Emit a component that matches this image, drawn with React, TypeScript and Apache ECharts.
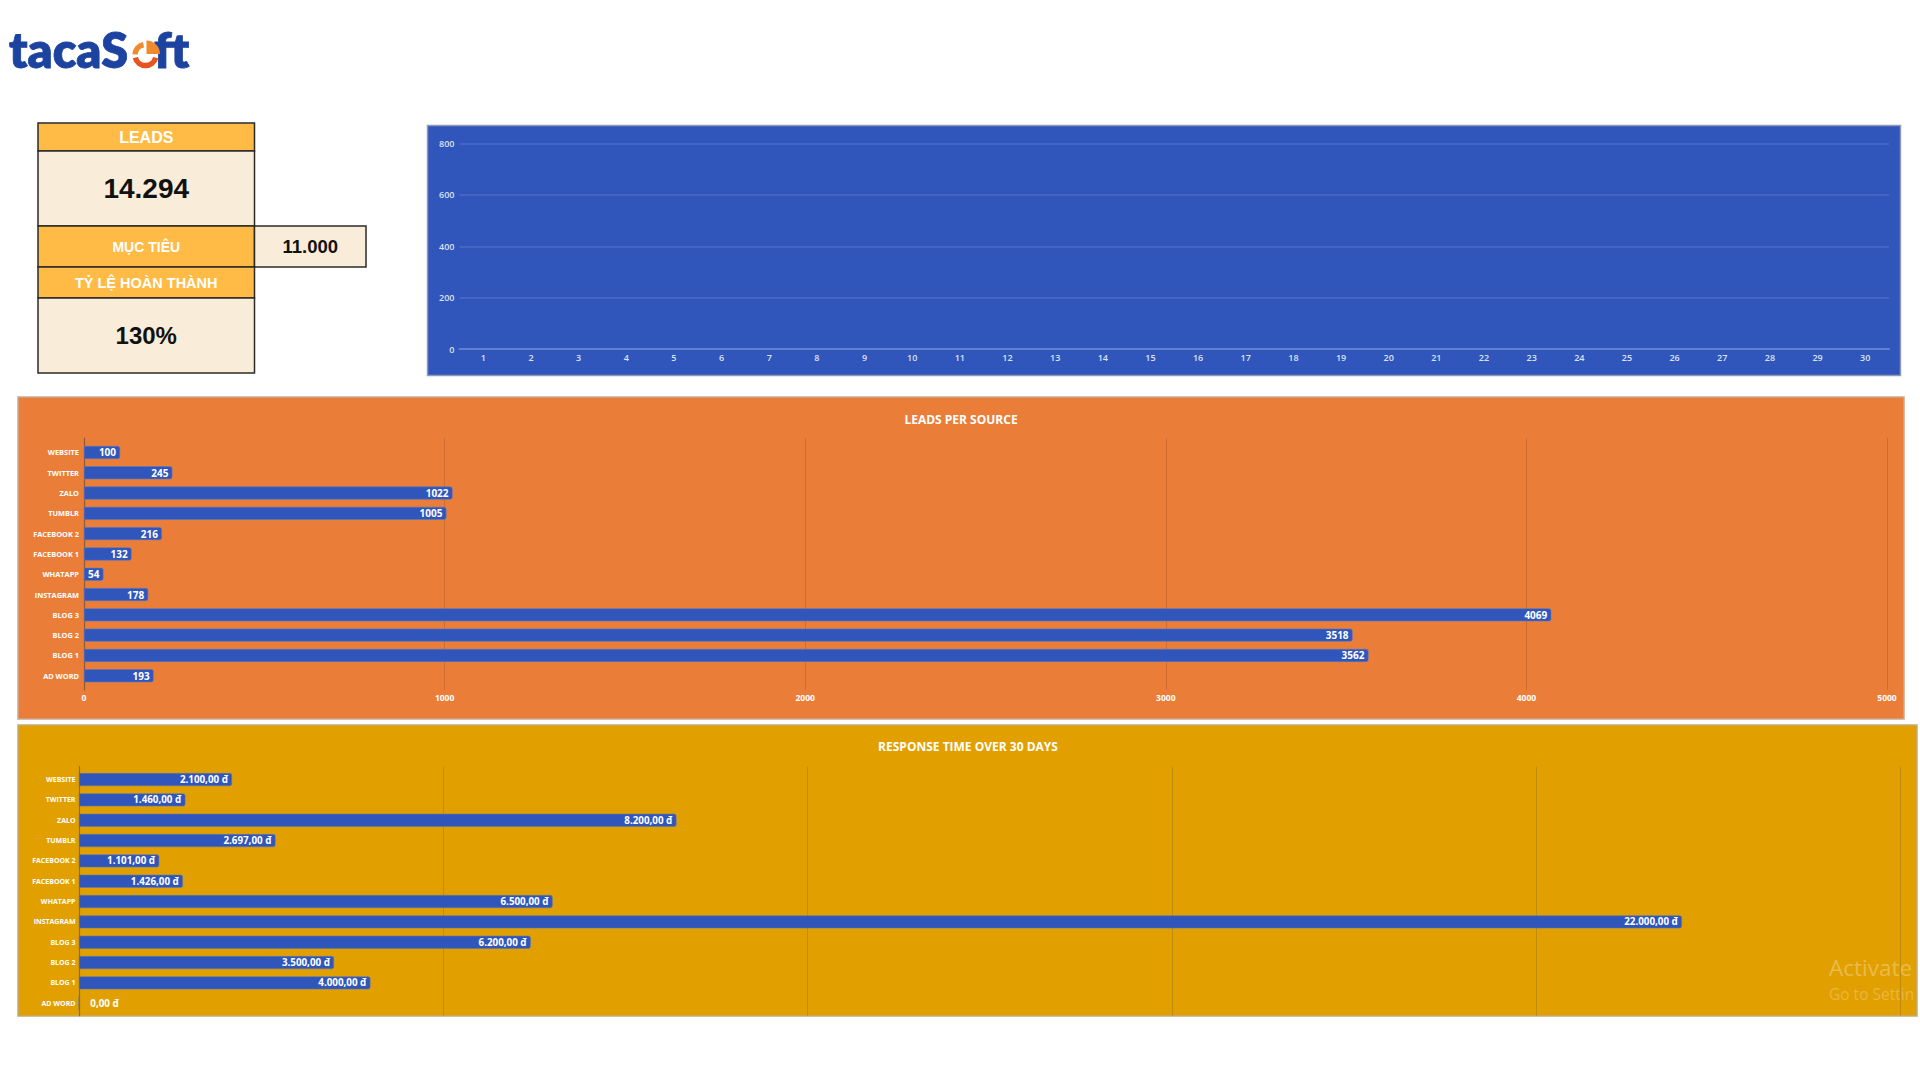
import { useEffect, useRef } from 'react';
import * as echarts from 'echarts';

const dayLabels = Array.from({ length: 30 }, (_, i) => String(i + 1));
const dailyLeads: number[] = [];

// bottom to top, as the category axis draws them
const sources = [
  'AD WORD', 'BLOG 1', 'BLOG 2', 'BLOG 3', 'INSTAGRAM', 'WHATAPP',
  'FACEBOOK 1', 'FACEBOOK 2', 'TUMBLR', 'ZALO', 'TWITTER', 'WEBSITE',
];
const leadsPerSource = [193, 3562, 3518, 4069, 178, 54, 132, 216, 1005, 1022, 245, 100];
const responseTime = [0, 4000, 3500, 6200, 22000, 6500, 1426, 1101, 2697, 8200, 1460, 2100];

const kpiTitle = 'LEADS';
const kpiTotal = '14.294';
const kpiTargetLabel = 'MỤC TIÊU';
const kpiTarget = '11.000';
const kpiRateLabel = 'TỶ LỆ HOÀN THÀNH';
const kpiRate = '130%';

const BAR_BLUE = '#3056bb';
const KPI_ORANGE = '#ffbb46';
const KPI_CREAM = '#f9edd9';
const LOGO_BLUE = '#1c439f';
const LOGO_ORANGE = '#f08a2e';
const LOGO_RED = '#e9531d';
const FONT = '"Open Sans", sans-serif';
const KPI_FONT = '"Liberation Sans", Arial, sans-serif';

function panel(x: number, y: number, width: number, height: number, fill: string, stroke: string) {
  return {
    type: 'rect',
    z: -10,
    silent: true,
    shape: { x, y, width, height },
    style: { fill, stroke, lineWidth: 1.5 },
  };
}

function cell(
  x: number, y: number, width: number, height: number, fill: string,
  text: string, color: string, fontSize: number,
) {
  return {
    type: 'rect',
    silent: true,
    shape: { x, y, width, height },
    style: { fill, stroke: '#2b2a28', lineWidth: 1.5 },
    textContent: {
      style: { text, fill: color, font: `bold ${fontSize}px ${KPI_FONT}` },
    },
    textConfig: { position: 'inside' },
  };
}

function label(x: number, y: number, text: string, fill: string, font: string, extra: any = {}) {
  return {
    type: 'text',
    silent: true,
    x,
    y,
    style: { text, fill, font, textAlign: 'left', textVerticalAlign: 'middle', ...extra },
  };
}

export default function App() {
  const chartRef = useRef<HTMLDivElement>(null);

  useEffect(() => {
    if (!chartRef.current) return;
    const chart = echarts.init(chartRef.current, null, { renderer: 'svg' });

    const option: any = {
      animation: false,
      backgroundColor: '#ffffff',
      title: [
        {
          text: 'LEADS PER SOURCE',
          left: 956,
          top: 408,
          textAlign: 'center',
          textStyle: { color: '#fff', fontSize: 12, fontWeight: 'bold', fontFamily: FONT },
        },
        {
          text: 'RESPONSE TIME OVER 30 DAYS',
          left: 963,
          top: 735.5,
          textAlign: 'center',
          textStyle: { color: '#fff', fontSize: 12, fontWeight: 'bold', fontFamily: FONT },
        },
      ],
      grid: [
        { left: 459.5, top: 143.5, width: 1429.5, height: 205.5 },
        // outer grids carry the split lines, which overshoot the category bands a little
        { left: 84, top: 438, width: 1803, height: 252 },
        { left: 84, top: 442.3, width: 1803, height: 243.6 },
        { left: 79, top: 766.7, width: 1821.5, height: 249 },
        { left: 79, top: 769.4, width: 1821.5, height: 244 },
      ],
      xAxis: [
        {
          type: 'category',
          gridIndex: 0,
          data: dayLabels,
          axisLine: { lineStyle: { color: '#5f80d2', width: 2 } },
          axisTick: { show: false },
          axisLabel: { color: '#dbe2f4', fontSize: 9, fontWeight: 600, fontFamily: FONT, margin: 4, interval: 0 },
        },
        {
          type: 'value',
          gridIndex: 1,
          min: 0,
          max: 5000,
          interval: 1000,
          axisLine: { show: false },
          axisTick: { show: false },
          axisLabel: {
            color: '#fff',
            fontSize: 8.5,
            fontWeight: 'bold',
            fontFamily: FONT,
            margin: 3,
            formatter: (value: number) => String(value),
          },
          splitLine: { lineStyle: { color: '#cf6c2f', width: 1 } },
        },
        { type: 'value', gridIndex: 2, min: 0, max: 5000, show: false },
        {
          type: 'value',
          gridIndex: 3,
          min: 0,
          max: 25000,
          interval: 5000,
          axisLine: { show: false },
          axisTick: { show: false },
          axisLabel: { show: false },
          splitLine: { lineStyle: { color: '#c08c10', width: 1 } },
        },
        { type: 'value', gridIndex: 4, min: 0, max: 25000, show: false },
      ],
      yAxis: [
        {
          type: 'value',
          gridIndex: 0,
          min: 0,
          max: 800,
          interval: 200,
          axisLine: { show: false },
          axisTick: { show: false },
          axisLabel: { color: '#dbe2f4', fontSize: 9, fontWeight: 600, fontFamily: FONT, margin: 5 },
          splitLine: { lineStyle: { color: '#4a6dc8', width: 1.5 } },
        },
        {
          type: 'category',
          gridIndex: 1,
          data: [],
          axisLine: { show: true, lineStyle: { color: '#8f5a35', width: 1.2 } },
          axisTick: { show: false },
          axisLabel: { show: false },
        },
        {
          type: 'category',
          gridIndex: 2,
          data: sources,
          axisLine: { show: false },
          axisTick: { show: false },
          axisLabel: { color: '#fff', fontSize: 7.4, fontWeight: 'bold', fontFamily: FONT, margin: 5, interval: 0 },
        },
        {
          type: 'category',
          gridIndex: 3,
          data: [],
          axisLine: { show: true, lineStyle: { color: '#8f6c18', width: 1.2 } },
          axisTick: { show: false },
          axisLabel: { show: false },
        },
        {
          type: 'category',
          gridIndex: 4,
          data: sources,
          axisLine: { show: false },
          axisTick: { show: false },
          axisLabel: { color: '#fff', fontSize: 7, fontWeight: 'bold', fontFamily: FONT, margin: 3.5, interval: 0 },
        },
      ],
      series: [
        { type: 'bar', xAxisIndex: 0, yAxisIndex: 0, data: dailyLeads },
        {
          type: 'bar',
          xAxisIndex: 2,
          yAxisIndex: 2,
          data: leadsPerSource,
          barWidth: 13,
          itemStyle: {
            color: BAR_BLUE,
            borderRadius: [0, 2, 2, 0],
            borderColor: '#5677c4',
            borderWidth: 0.6,
          },
          label: {
            show: true,
            position: 'insideRight',
            distance: 4,
            color: '#fff',
            fontSize: 10,
            fontWeight: 'bold',
            fontFamily: FONT,
          },
        },
        {
          type: 'bar',
          xAxisIndex: 4,
          yAxisIndex: 4,
          barWidth: 13,
          data: responseTime.map((value) =>
            value === 0
              ? { value, label: { position: 'right', distance: 11 } }
              : { value },
          ),
          itemStyle: {
            color: BAR_BLUE,
            borderRadius: [0, 2, 2, 0],
            borderColor: '#5d79a8',
            borderWidth: 0.6,
          },
          label: {
            show: true,
            position: 'insideRight',
            distance: 4,
            color: '#fff',
            fontSize: 9.8,
            fontWeight: 'bold',
            fontFamily: FONT,
            formatter: (p: any) =>
              `${Number(p.value).toLocaleString('de-DE', { minimumFractionDigits: 2 })} đ`,
          },
        },
      ],
      graphic: {
        elements: [
          panel(427.5, 125.5, 1473, 250, BAR_BLUE, '#8f9ab8'),
          panel(18, 397, 1886, 322, '#ea7e38', '#c9a98e'),
          panel(18, 725, 1899, 291, '#e2a000', '#c2ab74'),

          // KPI table
          cell(38, 123, 216.5, 28, KPI_ORANGE, kpiTitle, '#fff', 16),
          cell(38, 151, 216.5, 75, KPI_CREAM, kpiTotal, '#111', 28),
          cell(38, 226, 216.5, 41, KPI_ORANGE, kpiTargetLabel, '#fff', 14),
          cell(254.5, 226, 111.5, 41, KPI_CREAM, kpiTarget, '#111', 18.5),
          cell(38, 267, 216.5, 31, KPI_ORANGE, kpiRateLabel, '#fff', 14.5),
          cell(38, 298, 216.5, 75, KPI_CREAM, kpiRate, '#111', 24),

          // logo
          label(9, 49, 'tacaS', LOGO_BLUE, '800 48.5px Lato, sans-serif', { stroke: LOGO_BLUE, lineWidth: 0.8 }),
          label(154, 49, 'ft', LOGO_BLUE, '800 48.5px Lato, sans-serif', { stroke: LOGO_BLUE, lineWidth: 0.8 }),
          {
            type: 'arc',
            silent: true,
            shape: { cx: 145.5, cy: 55, r: 10.5, startAngle: Math.PI * 0.08, endAngle: Math.PI * 0.92 },
            style: { stroke: LOGO_RED, lineWidth: 5.5, fill: 'none' },
          },
          {
            type: 'arc',
            silent: true,
            shape: { cx: 145.5, cy: 55, r: 10.5, startAngle: Math.PI * 1.02, endAngle: Math.PI * 1.44 },
            style: { stroke: LOGO_ORANGE, lineWidth: 5.5, fill: 'none' },
          },
          {
            type: 'sector',
            silent: true,
            shape: { cx: 146.5, cy: 54, r0: 0, r: 13.5, startAngle: Math.PI * 1.5, endAngle: Math.PI * 2 },
            style: { fill: LOGO_ORANGE },
          },

          // watermark of the captured screen
          label(1829, 967, 'Activate', 'rgba(255,255,255,0.3)', '22.5px "Open Sans", sans-serif'),
          label(1829, 994, 'Go to Settin', 'rgba(255,255,255,0.25)', '15.5px "Open Sans", sans-serif'),
        ],
      },
    };

    chart.setOption(option);
    return () => chart.dispose();
  }, []);

  return (
    <div
      ref={chartRef}
      style={{ position: 'absolute', left: 0, top: 0, width: 1920, height: 1080 }}
    />
  );
}
